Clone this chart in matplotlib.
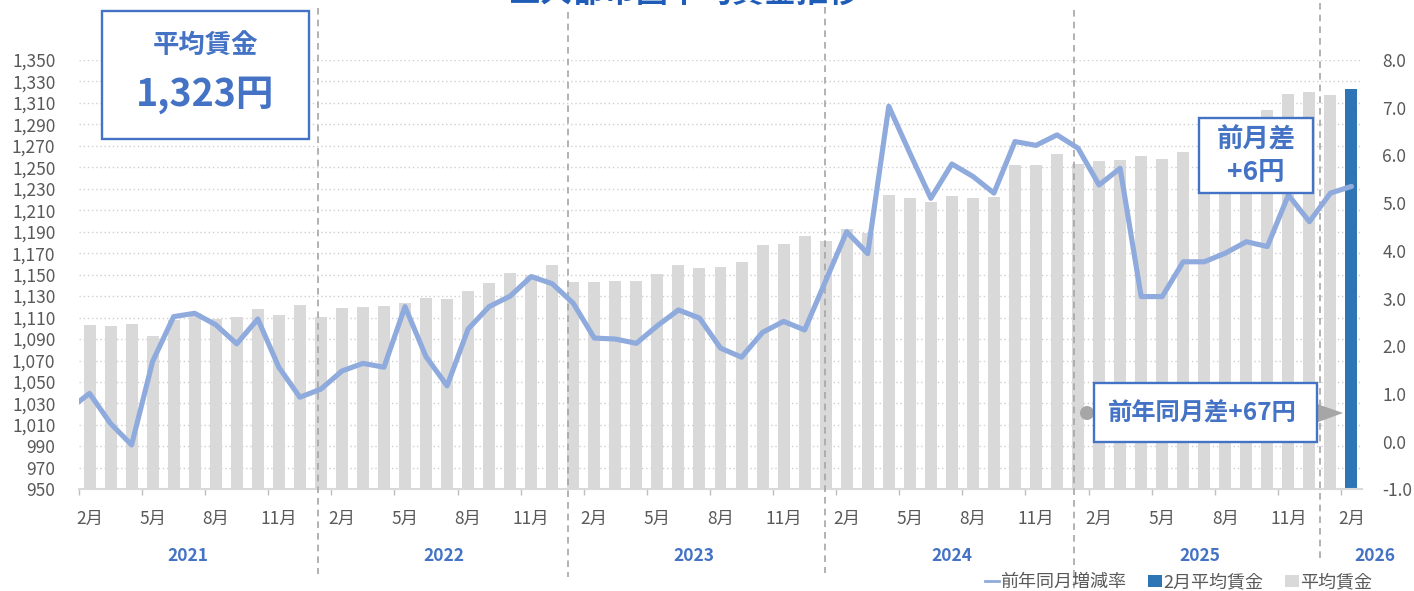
import numpy as np
import matplotlib
matplotlib.use("Agg")
import matplotlib.pyplot as plt
from matplotlib.patches import Rectangle, Patch, Ellipse, Polygon
from matplotlib.lines import Line2D
from matplotlib.transforms import blended_transform_factory

plt.rcParams['font.family'] = ['Noto Sans CJK JP', 'DejaVu Sans']

# ---------------- data ----------------
# months: Jan 2021 .. Feb 2026 (index 0 = 2021-01)
years = [2021, 2022, 2023, 2024, 2025, 2026]
months = [(y, m) for y in range(2021, 2027) for m in range(1, 13)][:62]

# year-on-year change (%) Jan 2021 .. Feb 2026
yoy = [0.67, 1.01, 0.38, -0.07, 1.68, 2.62, 2.69, 2.45, 2.05, 2.57, 1.56, 0.93,
       1.10, 1.48, 1.64, 1.56, 2.83, 1.78, 1.17, 2.36, 2.83, 3.05, 3.46, 3.31,
       2.90, 2.17, 2.15, 2.06, 2.43, 2.76, 2.59, 1.96, 1.77, 2.29, 2.52, 2.34,
       3.37, 4.40, 3.94, 7.03, 6.05, 5.10, 5.82, 5.56, 5.21, 6.29, 6.21, 6.43,
       6.15, 5.38, 5.73, 3.04, 3.04, 3.77, 3.77, 3.95, 4.19, 4.09, 5.17, 4.61,
       5.21, 5.35]

# average wage (yen) Feb 2021 .. Feb 2026
avg_wage = [1103, 1102, 1104, 1093, 1108, 1114, 1109, 1111, 1118, 1112, 1122,
            1111, 1119, 1120, 1121, 1124, 1128, 1127, 1135, 1142, 1152, 1150, 1159,
            1143, 1143, 1144, 1144, 1151, 1159, 1156, 1157, 1162, 1178, 1179, 1186,
            1181, 1193, 1189, 1224, 1221, 1218, 1223, 1221, 1222, 1252, 1252, 1262,
            1253, 1256, 1257, 1261, 1258, 1264, 1269, 1269, 1273, 1303, 1318, 1320,
            1317, 1323]

left_ticks = list(range(950, 1351, 20))
right_ticks = [-1.0, 0.0, 1.0, 2.0, 3.0, 4.0, 5.0, 6.0, 7.0, 8.0]

title = "三大都市圏平均賃金推移"
legend_labels = ["前年同月増減率", "2月平均賃金", "平均賃金"]

# ---------------- style ----------------
W, H = 1414, 591
GRAY_BAR = '#D9D9D9'
BLUE_BAR = '#2E75B6'
LINE_C = '#8FAADC'
BOX_C = '#4472C4'
TXT = '#595959'

def fx(x):
    return x / W

def fy(y):
    return 1 - y / H

fig = plt.figure(figsize=(W / 100, H / 100), dpi=100)
ax = fig.add_axes([fx(79), fy(489.3), (1362 - 79) / W, (489.3 - 60) / H])
ax2 = ax.twinx()

x_line = np.arange(len(yoy))
x_bar = np.arange(1, len(avg_wage) + 1)

ax.bar(x_bar[:-1], avg_wage[:-1], width=0.57, color=GRAY_BAR, zorder=2)
ax.bar(x_bar[-1:], avg_wage[-1:], width=0.57, color=BLUE_BAR, zorder=2)

ax2.plot(x_line, yoy, color=LINE_C, lw=3.7, solid_joinstyle='round',
         solid_capstyle='round', zorder=3)

ax.set_xlim(0.5, len(yoy) - 0.5)
ax.set_ylim(950, 1350)
ax2.set_ylim(-1, 8)

ax.set_yticks(left_ticks)
ax.set_yticklabels([f"{v:,}" for v in left_ticks])
ax2.set_yticks(right_ticks)
ax2.set_yticklabels([f"{v:.1f}" for v in right_ticks])
ax.tick_params(axis='y', length=0, pad=17, labelsize=12.5, labelcolor=TXT)
ax2.tick_params(axis='y', length=0, pad=14.5, labelsize=12.5, labelcolor=TXT)

ax.yaxis.grid(True, color='#CFCFCF', linestyle=(0, (1, 2)), lw=1)
ax.set_axisbelow(True)

for a in (ax, ax2):
    for s in ('top', 'left', 'right', 'bottom'):
        a.spines[s].set_visible(False)
ax.spines['bottom'].set_visible(True)
ax.spines['bottom'].set_color('#D9D9D9')
ax.spines['bottom'].set_linewidth(1.5)

major = np.arange(0.5, len(yoy) - 0.5, 3)
ax.set_xticks(major)
ax.set_xticklabels([])
ax.tick_params(axis='x', which='major', length=4.5, width=1, color='#BFBFBF', direction='out')
minor_pos = [i for i, (y, m) in enumerate(months) if m in (2, 5, 8, 11)]
ax.set_xticks(minor_pos, minor=True)
ax.set_xticklabels([f"{months[i][1]}月" for i in minor_pos], minor=True)
ax.tick_params(axis='x', which='minor', length=0, pad=14.5, labelsize=12.5, labelcolor=TXT)

ax.set_zorder(1)
ax2.set_zorder(2)
ax.patch.set_visible(False)

# year separators and labels
tr = blended_transform_factory(ax.transData, fig.transFigure)
for xs, (yt, yb) in zip([11.88, 23.75, 35.97, 47.83, 59.5],
                         [(8, 574), (12, 577), (7, 573), (10, 591), (3, 558)]):
    ax.add_line(Line2D([xs, xs], [fy(yt), fy(yb)], transform=tr, color='#A6A6A6',
                       lw=1.2, linestyle=(0, (4, 3)), clip_on=False, zorder=5))
for xs, yr in zip([5.68, 17.86, 29.74, 42.0, 53.8, 62.1], years):
    fig.text(xs, fy(556), str(yr), transform=tr, ha='center', va='center',
             fontsize=12.5, fontweight='bold', color=BOX_C)

# title (mostly cut off at top, as in the reference)
fig.text(fx(685), fy(2), title, ha='center', va='baseline', fontsize=23,
         fontweight='bold', color='#1F5CB8')

# boxes
def box(x0, y0, x1, y1):
    fig.patches.append(Rectangle((fx(x0), fy(y1)), (x1 - x0) / W, (y1 - y0) / H,
                                 transform=fig.transFigure, facecolor='white',
                                 edgecolor=BOX_C, lw=1.7, zorder=10))

box(102, 11, 309, 139)
fig.text(fx(205.5), fy(45), "平均賃金", ha='center', va='center', fontsize=19,
         fontweight='bold', color=BOX_C, zorder=11)
fig.text(fx(205.5), fy(95), f"{avg_wage[-1]:,}円", ha='center', va='center',
         fontsize=27, fontweight='bold', color=BOX_C, zorder=11)

box(1199, 117.5, 1313, 193)
mom = avg_wage[-1] - avg_wage[-2]
fig.text(fx(1256), fy(140), "前月差", ha='center', va='center', fontsize=19,
         fontweight='bold', color=BOX_C, zorder=11)
fig.text(fx(1256), fy(172), f"{mom:+d}円", ha='center', va='center', fontsize=19,
         fontweight='bold', color=BOX_C, zorder=11)

# arrow dot + head behind the third box
fig.patches.append(Ellipse((fx(1087), fy(413)), 14 / W, 14 / H, transform=fig.transFigure,
                           facecolor='#A6A6A6', edgecolor='none', zorder=9))
fig.patches.append(Polygon([(fx(1310), fy(401.5)), (fx(1343), fy(413)),
                            (fx(1310), fy(425))], closed=True,
                           transform=fig.transFigure, facecolor='#A6A6A6',
                           edgecolor='none', zorder=9))
box(1093.5, 382.5, 1316.5, 442)
yoy_diff = avg_wage[-1] - avg_wage[-13]
fig.text(fx(1202), fy(414), f"前年同月差{yoy_diff:+d}円", ha='center', va='center',
         fontsize=17.5, fontweight='bold', color=BOX_C, zorder=11)

# legend
handles = [Line2D([0], [0], color=LINE_C, lw=2),
           Patch(facecolor=BLUE_BAR, edgecolor='none'),
           Patch(facecolor=GRAY_BAR, edgecolor='none')]
leg = fig.legend(handles, legend_labels, loc='center left',
                 bbox_to_anchor=(fx(985), fy(582)), ncol=3, frameon=False,
                 fontsize=13, handlelength=0.75, handleheight=0.65,
                 handletextpad=0.1, columnspacing=1.2, borderpad=0,
                 borderaxespad=0)
for t in leg.get_texts():
    t.set_color(TXT)

fig.savefig('out.png', dpi=100)
